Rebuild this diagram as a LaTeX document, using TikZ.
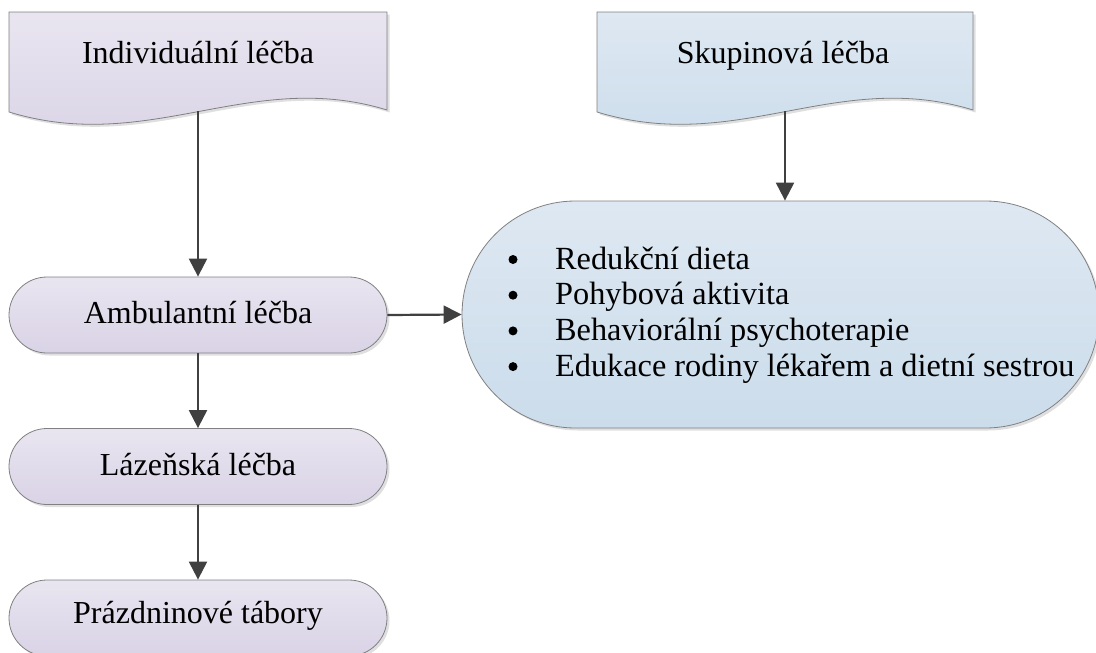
\documentclass[tikz,border=0pt]{standalone}
\usepackage{fontspec}
\setmainfont{Liberation Serif}
\usetikzlibrary{arrows.meta,shapes.misc,shadows}
\definecolor{purpT}{RGB}{233,229,240}
\definecolor{purpB}{RGB}{217,211,230}
\definecolor{blueT}{RGB}{222,232,242}
\definecolor{blueB}{RGB}{203,220,235}
\definecolor{edgec}{RGB}{128,128,128}
\definecolor{arrc}{RGB}{64,64,64}
\tikzset{
 shp/.style={draw=edgec, line width=0.8pt, drop shadow={opacity=0.25, shadow xshift=2.5pt, shadow yshift=-2.5pt}},
 purp/.style={shp, top color=purpT, bottom color=purpB},
 blu/.style={shp, top color=blueT, bottom color=blueB},
 term/.style={rounded rectangle, minimum width=378pt, minimum height=76pt, inner sep=0pt},
 lbl/.style={font=\fontsize{32}{38}\selectfont, anchor=base, inner sep=0pt},
 bul/.style={circle, fill=black, minimum size=9pt, inner sep=0pt},
 conn/.style={draw=arrc, line width=2.2pt, -{Triangle[length=18pt,width=18pt]}}
}
\begin{document}
\begin{tikzpicture}[x=1pt,y=-1pt]
\useasboundingbox (0,0) rectangle (1096,653);
% documents
\path[purp] (9,12) -- (387,12) -- (387,110) .. controls (250,68) and (150,155) .. (9,112) -- cycle;
\coordinate (d1) at (198,111);
\node[lbl] (t1) at (198,63) {Individuální léčba};
\path[blu] (597,12) -- (973,12) -- (973,110) .. controls (836,68) and (738,155) .. (597,112) -- cycle;
\coordinate (d2) at (785,111);
\node[lbl] (t2) at (783,63) {Skupinová léčba};
% terminators
\node[term, purp] (amb) at (198,315) {};
\node[lbl] (tamb) at (198,323) {Ambulantní léčba};
\node[term, purp] (laz) at (198,466.5) {};
\node[lbl] (tlaz) at (198,475) {Lázeňská léčba};
\node[term, purp] (praz) at (198,618) {};
\node[lbl] (tpraz) at (198,623) {Prázdninové tábory};
\node[rounded rectangle, minimum width=637pt, minimum height=227pt, inner sep=0pt, blu] (big) at (780.5,314.5) {};
\node[font=\fontsize{32.3}{35.7}\selectfont, anchor=base west, inner sep=0pt] (list) at (555,269)
 {\begin{tabular}[t]{@{}l@{}}
 Redukční dieta\\
 Pohybová aktivita\\
 Behaviorální psychoterapie\\
 Edukace rodiny lékařem a dietní sestrou
 \end{tabular}};
\node[bul] (b1) at (513,259.5) {};
\node[bul] (b2) at (513,295.2) {};
\node[bul] (b3) at (513,330.9) {};
\node[bul] (b4) at (513,366.6) {};
% connectors
\draw[conn] (d1) -- (amb.north);
\draw[conn] (amb.south) -- (laz.north);
\draw[conn] (laz.south) -- (praz.north);
\draw[conn] (amb.east) -- (big.west);
\draw[conn] (d2) -- (d2 |- big.north);
\end{tikzpicture}
\end{document}
